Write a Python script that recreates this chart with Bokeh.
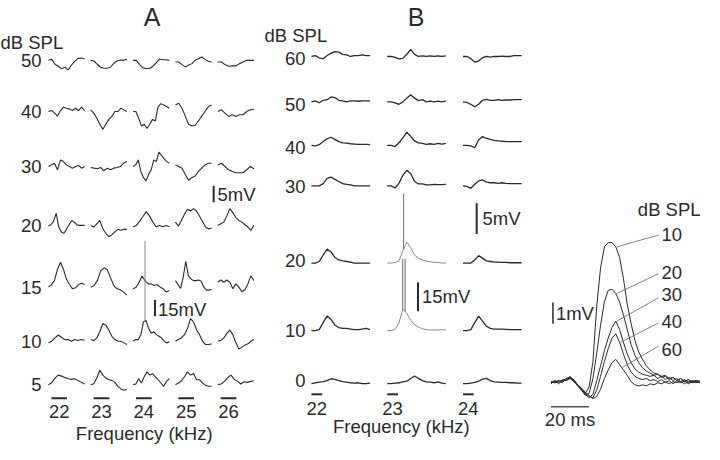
import numpy as np
from bokeh.plotting import figure
from bokeh.models import Range1d
from bokeh.core.properties import value
from bokeh.embed import file_html
from bokeh.resources import INLINE

FONT = "Liberation Sans"
INK = "#2a2a2a"
GREY = "#8a8a8a"

# ---------------- Panel A: membrane responses (mV), rows = dB SPL, cols = kHz
A_levels = ["50", "40", "30", "20", "15", "10", "5"]
A_freqs = ["22", "23", "24", "25", "26"]
A_50 = [
    [0, 0.3, -1.2, -1.8, -2.6, -2.1, -2.9, -1.5, -0.3, 0.6, 0.7, 0.5],
    [0, -0.2, -1.2, -2.1, -2.4, -2.4, -2.1, -0.9, -0.2, 0.1, 0.0, 0.3],
    [0, 0, -1.3, -2.3, -2.5, -2.5, -1.8, -0.8, 0.4, 0.2, 0.2, 0],
    [-0.5, -0.5, -1.3, -2.0, -1.5, -1.0, 0.0, 0.5, 1.0, 0.3, -0.3, -0.5],
    [-0.5, -0.5, -1.3, -1.8, -1.7, -1.7, -1.0, -0.5, 0.0, 0.0, 0.0],
]
A_40 = [
    [0, 0.3, -0.4, -1.4, 0.3, 1.3, 1.0, 0.8, 0.3, 1.0, 0.3, 1.3, 0.3],
    [0.5, -0.5, -2.0, -3.9, -5.4, -3.9, -2.4, -1.5, 0.0, 0.0, 1.0, 0.5, 0.0],
    [0, 0, -2.0, -4.4, -3.9, -5.2, -3.9, -2.4, -2.9, 1.5, 2.4, 2.0, 1.5, 1.0],
    [2.0, 2.5, 1.0, -1.4, -3.9, -4.4, -4.2, -2.9, -1.4, 0.0, 1.5, 2.0],
    [0, 0.5, -0.5, -1.5, -1.0, -1.5, -1.0, -1.0, 0, 0.5, 0.7],
]
A_30 = [
    [0, 0.5, 1.0, -1.0, 2.0, 1.5, 0.5, 0, -0.5, 0, 0.3, -0.5, 0],
    [-0.3, -0.5, -0.7, -0.3, -1.3, -0.5, -1.0, -0.5, -0.3, 0.0, 1.0, 1.5],
    [0, 0.5, 2.0, -1.5, -3.4, -4.4, -2.4, -1.0, 2.0, 1.5, 4.4, 3.4, 2.4, 1.5, 1.0],
    [0.5, 0, -0.5, -2.4, -4.2, -3.4, -2.9, -1.5, -0.5, 0.5, 1.0, 1.0],
    [0.5, 1.0, 0, -1.0, -1.5, -1.9, -1.9, -1.9, -1.0, 0, -0.7],
]
A_20 = [
    [-0.2, 0.2, 1.2, 3.7, -0.5, -2.0, -2.4, -1.2, 0.2, 1.5, 1.0, 0.2, 0, 0, 0],
    [0, -0.5, 0.5, 1.5, -1.0, -2.4, -3.4, -2.9, -2.0, -1.2, -1.5, -1.2, -1.2],
    [-0.4, 0, 1.3, 2.7, 4.2, 2.9, 1.0, -0.4, 0, -0.4, 0, -0.4],
    [1.0, -0.2, 1.5, 3.4, 4.9, 4.4, 5.1, 4.4, 2.8, 1.2, -0.5, -1.1, -0.8],
    [0, 0.5, 1.0, 2.9, 5.1, 3.9, 2.4, 1.5, 1.0, 0.2, -0.5, -1.5, 0],
]
A_15 = [
    [0, 0.8, 2.0, 5.4, 7.6, 5.4, 2.4, 0.8, -0.5, -0.2, 0.8, 1.2, 0.8],
    [0, 0.5, 2.0, 4.9, 5.9, 5.4, 2.9, 0.5, -0.5, -0.8, -1.5, -2.4],
    [-0.5, 0, 1.5, 3.4, 1.9, 1.0, 1.0, 0.5, 0.8, 0, -0.5, -1.5, -1.0],
    [2.0, 0.8, -0.4, 3.0, 7.9, 3.5, 2.5, 2.0, 2.0, 2.2, 1.8, 0.0, -0.9, -0.9, -0.7],
    [1.5, 2.2, 1.5, 2.2, 1.5, -0.5, 1.0, 0, -1.4, -0.8, 1.0, 3.5, 2.0],
]
A_10 = [
    [-0.5, 0.0, 1.0, 1.9, 1.2, 0.5, 0.5, 0.0, 0.5, 0.2, 0.5, 0.3],
    [0.5, 0.2, 1.0, 2.9, 5.4, 4.9, 3.4, 1.5, 0.5, 0, 0, -0.5, -1.0],
    [0, 0.5, 0.5, 2.0, 5.9, 6.4, 3.9, 2.4, 2.9, 2.0, 1.5, 1.0, 0, -0.5, -0.2],
    [0, 0.5, 1.0, 2.0, 3.9, 6.9, 5.9, 3.4, 2.0, 0, -1.0, -1.0, -0.8],
    [0, 0.2, 1.0, 2.4, 3.4, 2.0, -0.5, -2.4, -1.8, -1.2, -0.8, 0, 0.5],
]
A_5 = [
    [0, 0.6, 2.0, 2.9, 2.6, 2.2, 1.8, 1.6, 1.8, 1.3, 0.7, 0.2],
    [0, 0.3, 2.0, 4.4, 2.9, 2.0, 1.5, 1.3, 0.7, -0.5, -1.3, -1.7, -1.5],
    [0, 0.2, 1.8, 0.5, 2.4, 3.9, 2.9, 3.4, 2.4, 1.5, 0.5, -0.5, 1.0, 1.8],
    [0, 0.5, 1.2, 2.4, 3.9, 2.9, 3.4, 1.5, 1.5, 0.5, -0.2, -0.5, -0.5],
    [0, 0.2, 1.0, 2.1, 2.9, 1.7, 1.0, 0.2, 0.9, 0.7, 1.0, 1.2],
]
A_rows = [A_50, A_40, A_30, A_20, A_15, A_10, A_5]
# spike in the 24 kHz / 10 dB trace: (row, col, fraction of sweep, peak mV)
A_spikes = [(5, 2, 0.33, 30.6)]

# ---------------- Panel B
B_levels = ["60", "50", "40", "30", "20", "10", "0"]
B_freqs = ["22", "23", "24"]
B_60 = [
    [0, 0.15, -0.25, -0.35, 0.15, 0.5, 0.8, 0.7, 0.35, 0.25, 0, 0.15, 0.15, 0.25, 0.15, 0.15],
    [0, 0, -0.15, -0.4, -0.3, 0.35, 1.15, 0.35, 0, 0.1, 0, 0.1, 0, 0.1, 0, 0.1],
    [0, 0, -0.35, -0.9, -0.75, -0.2, 0, -0.1, 0, 0, 0.05, 0, 0, 0.15, 0.15, 0.15],
]
B_50 = [
    [0, 0.15, -0.15, 0.25, 0.35, 0.8, 0.7, 0.25, 0.15, 0, 0.15, 0.15, 0.1, 0.15, 0.15, 0.15],
    [0, 0, -0.15, -0.4, 0, 0.6, 1.15, 0.6, 0.2, 0.35, 0, 0.1, 0, 0.1, 0, 0.1],
    [0, -0.1, -0.4, -0.8, -0.4, 0.25, 0.4, 0.25, 0.25, 0.35, 0.25, 0.3, 0.3, 0.35, 0.35, 0.35],
]
B_40 = [
    [0, -0.1, 0.1, 0.6, 1.05, 1.3, 0.95, 0.6, 0.4, 0.35, 0.25, 0.2, 0.15, 0.15, 0.15, 0.1],
    [0, 0, -0.2, 0.4, 1.2, 2.1, 1.45, 0.7, 0.4, 0.3, 0.15, 0.25, 0.15, 0.3, 0.2, 0.3],
    [0, 0, -0.1, -0.4, 0.9, 1.4, 1.1, 0.95, 0.8, 0.7, 0.65, 0.6, 0.6, 0.6, 0.6, 0.6],
]
B_30 = [
    [0, 0, 0, 0.35, 1.2, 1.4, 1.05, 0.7, 0.35, 0.25, 0.15, 0, 0, 0, 0, 0],
    [0, 0, -0.35, 0.4, 1.7, 2.5, 2.0, 0.7, 0.3, 0.3, 0.15, 0.15, 0.25, 0.2, 0.2, 0.25],
    [0, -0.1, -0.4, 0.25, 0.8, 0.95, 0.6, 0.5, 0.5, 0.4, 0.5, 0.4, 0.35, 0.35, 0.35, 0.35],
]
B_20 = [
    [0, 0, 0.25, 1.3, 2.25, 1.8, 0.9, 0.5, 0.35, 0.25, 0.15, 0, 0, 0, 0, 0],
    [0, 0, 0.1, 0.3, 2.0, 3.4, 2.5, 1.3, 0.8, 0.5, 0.3, 0.2, 0.1, 0.1, 0, 0],
    [0, 0, 0, 0.5, 1.2, 0.8, 0.35, 0.25, 0.15, 0.15, 0.1, 0.1, 0.05, 0.05, 0.05, 0.05],
]
B_10 = [
    [0, 0, 0.15, 1.3, 2.35, 1.8, 0.9, 0.5, 0.35, 0.35, 0.25, 0.15, 0.15, 0.25, 0.35, 0.15],
    [0, 0, 0.15, 1.25, 3.45, 2.8, 1.7, 0.95, 0.6, 0.3, 0.15, 0.1, 0.1, 0.1, 0.15, 0.1],
    [0, 0, 0.15, 1.3, 2.35, 1.55, 0.7, 0.35, 0.25, 0.25, 0.25, 0.2, 0.15, 0.15, 0.15, 0.15],
]
B_0 = [
    [0, 0.15, 0.25, 0.35, 0.5, 0.8, 0.7, 0.5, 0.35, 0.25, 0.15, 0.1, 0.15, 0, 0, 0.1],
    [0, 0, 0.1, 0.15, 0.3, 0.4, 0.85, 1.25, 0.85, 0.5, 0.3, 0.25, 0.15, 0.3, 0.1, 0],
    [0, 0, 0.1, 0.2, 0.4, 0.75, 0.85, 0.5, 0.3, 0.25, 0.2, 0.2, 0.15, 0.15, 0.1, 0.1],
]
B_rows = [B_60, B_50, B_40, B_30, B_20, B_10, B_0]
B_grey = [(4, 1), (5, 1)]
B_spikes = [(4, 1, 0.28, 11.25), (5, 1, 0.265, 11.6), (5, 1, 0.305, 11.6)]

# ---------------- Panel C: averaged responses, t in ms (step 2 ms)
C_levels = ["10", "20", "30", "40", "60"]
C_10 = [0.0, 0.1, -0.05, 0.1, 0.15, 0.3, 0.1, -0.15, -0.35, -0.5, -0.2, 1.0, 3.6, 5.4, 6.4, 6.6, 6.6, 6.4, 5.9, 4.9,
        3.7, 2.8, 2.0, 1.45, 1.1, 0.8, 0.6, 0.45, 0.4, 0.3, 0.35, 0.2, 0.25, 0.1, 0.2, 0.05, 0.15, 0.0, 0.1, 0.05]
C_20 = [0.05, 0.0, 0.1, 0.05, 0.2, 0.25, 0.05, -0.1, -0.35, -0.6, -0.5, 0.2, 1.4, 2.7, 3.8, 4.35, 4.4, 4.2, 3.8, 3.2,
        2.5, 1.8, 1.3, 0.95, 0.7, 0.55, 0.45, 0.35, 0.4, 0.25, 0.3, 0.15, 0.25, 0.1, 0.2, 0.05, 0.15, 0.05, 0.1, 0.0]
C_30 = [-0.05, 0.1, 0.0, 0.15, 0.1, 0.25, 0.15, -0.1, -0.3, -0.55, -0.7, -0.55, 0.1, 0.8, 1.5, 2.1, 2.6, 2.9, 2.5, 1.9,
        1.35, 0.95, 0.65, 0.5, 0.4, 0.35, 0.3, 0.35, 0.2, 0.3, 0.15, 0.25, 0.1, 0.2, 0.05, 0.15, 0.0, 0.1, 0.05, 0.1]
C_40 = [0.0, 0.05, 0.1, 0.0, 0.2, 0.2, 0.1, -0.1, -0.3, -0.5, -0.65, -0.7, -0.35, 0.3, 1.0, 1.6, 2.1, 2.3, 1.9, 1.35,
        0.85, 0.5, 0.3, 0.2, 0.15, 0.2, 0.1, 0.15, 0.05, 0.15, 0.0, 0.1, -0.05, 0.1, 0.0, 0.1, -0.05, 0.05, 0.0, 0.05]
C_60 = [0.05, 0.0, 0.05, 0.1, 0.1, 0.2, 0.05, -0.1, -0.25, -0.45, -0.6, -0.75, -0.65, -0.3, 0.2, 0.6, 0.95, 1.1, 0.85, 0.6,
        0.35, 0.05, -0.1, -0.15, -0.1, -0.15, -0.05, -0.1, 0.0, -0.05, 0.05, -0.05, 0.05, 0.0, 0.05, -0.05, 0.05, 0.0, 0.05, 0.0]
C_traces = [C_10, C_20, C_30, C_40, C_60]
C_t = [2 * i for i in range(40)]
C_lead_t = [34, 34, 34, 36, 37]

# ---------------- layout (reference-pixel canvas)
W, H = 704, 444
p = figure(width=W, height=H, output_backend="svg", toolbar_location=None,
           x_range=Range1d(0, 720), y_range=Range1d(460, 0),
           x_axis_location=None, y_axis_location=None, min_border=0)
p.outline_line_color = None
p.grid.grid_line_color = None
p.background_fill_color = "white"
p.border_fill_color = "white"

FS = "18.5px"


def txt(xs, ys, texts, size=FS, align="left", color=INK):
    p.text(x=xs, y=ys, text=texts, text_font=value(FONT), text_font_size=value(size),
           text_align=value(align), text_baseline=value("middle"), text_color=color)


def trace_xy(vals, x0, w, base, scale):
    v = np.asarray(vals, dtype=float)
    xs = x0 + np.linspace(0.0, w, len(v))
    return xs, base - v * scale


# ---- Panel A
A_ROW_Y = [62, 115, 172, 233, 297, 353, 398]
A_X0, A_DX, A_W, A_SCALE = 49.0, 43.3, 37.0, 3.4
xs_l, ys_l = [], []
for r, row in enumerate(A_rows):
    for c, vals in enumerate(row):
        x, y = trace_xy(vals, A_X0 + c * A_DX, A_W, A_ROW_Y[r], A_SCALE)
        xs_l.append(x); ys_l.append(y)
p.multi_line(xs=xs_l, ys=ys_l, line_color=INK, line_width=1.1)
for r, c, frac, pk in A_spikes:
    x, y = trace_xy(A_rows[r][c], A_X0 + c * A_DX, A_W, A_ROW_Y[r], A_SCALE)
    sx = A_X0 + c * A_DX + frac * A_W
    p.segment(x0=[sx], y0=[float(np.interp(sx, x, y))], x1=[sx], y1=[A_ROW_Y[r] - pk * A_SCALE],
              line_color=GREY, line_width=1)
txt([42] * len(A_levels), A_ROW_Y, A_levels, align="right")
txt([0], [44], ["dB SPL"])
txt([155], [17], ["A"], size="25px", align="center")
bx = [A_X0 + 3 + c * A_DX for c in range(len(A_freqs))]
p.segment(x0=bx, y0=[412] * len(bx), x1=[b + 16 for b in bx], y1=[412] * len(bx), line_color=INK, line_width=2)
txt([b + 8 for b in bx], [426] * len(bx), A_freqs, align="center")
txt([147], [449], ["Frequency (kHz)"], align="center")
p.segment(x0=[218], y0=[209], x1=[218], y1=[209 - 5 * A_SCALE], line_color=INK, line_width=2)
txt([222], [201], ["5mV"])
p.segment(x0=[158], y0=[327], x1=[158], y1=[327 - 5 * A_SCALE], line_color=INK, line_width=2)
txt([161], [320], ["15mV"])

# ---- Panel B
B_ROW_Y = [58, 105, 150, 192, 272, 342, 397]
B_LAB_Y = [60, 108, 152, 193, 269, 342, 394]
B_X0, B_DX, B_W, B_SCALE = 318.0, 77.5, 60.0, 6.4
xs_d, ys_d, xs_g, ys_g = [], [], [], []
for r, row in enumerate(B_rows):
    for c, vals in enumerate(row):
        x, y = trace_xy(vals, B_X0 + c * B_DX, B_W, B_ROW_Y[r], B_SCALE)
        if (r, c) in B_grey:
            xs_g.append(x); ys_g.append(y)
        else:
            xs_d.append(x); ys_d.append(y)
p.multi_line(xs=xs_d, ys=ys_d, line_color=INK, line_width=1.3)
p.multi_line(xs=xs_g, ys=ys_g, line_color=GREY, line_width=1)
for r, c, frac, pk in B_spikes:
    x, y = trace_xy(B_rows[r][c], B_X0 + c * B_DX, B_W, B_ROW_Y[r], B_SCALE)
    sx = B_X0 + c * B_DX + frac * B_W
    p.segment(x0=[sx], y0=[float(np.interp(sx, x, y))], x1=[sx], y1=[B_ROW_Y[r] - pk * B_SCALE],
              line_color="#6a6a6a", line_width=1)
txt([312] * len(B_levels), B_LAB_Y, B_levels, align="right")
txt([270], [36], ["dB SPL"])
txt([425], [17], ["B"], size="25px", align="center")
bx = [B_X0 + c * B_DX for c in range(len(B_freqs))]
p.segment(x0=bx, y0=[408] * len(bx), x1=[b + 11 for b in bx], y1=[408] * len(bx), line_color=INK, line_width=2)
txt([b + 5.5 for b in bx], [423] * len(bx), B_freqs, align="center")
txt([410], [441], ["Frequency (kHz)"], align="center")
p.segment(x0=[487], y0=[242], x1=[487], y1=[242 - 5 * B_SCALE], line_color=INK, line_width=2)
txt([493], [226], ["5mV"])
p.segment(x0=[427], y0=[322], x1=[427], y1=[292], line_color=INK, line_width=2)
txt([431], [307], ["15mV"])

# ---- Panel C
C_X0, C_MS, C_BASE, C_SCALE = 563.0, 1.95, 396.0, 22.0
cx = [C_X0 + np.asarray(C_t, dtype=float) * C_MS for _ in C_traces]
cy = [C_BASE - np.asarray(v, dtype=float) * C_SCALE for v in C_traces]
p.multi_line(xs=cx, ys=cy, line_color=INK, line_width=1)
C_LAB_Y = [242, 282, 305, 333, 362]
C_LEAD_END = [243, 283, 308, 334, 358]
lx0 = [C_X0 + t * C_MS for t in C_lead_t]
ly0 = [float(np.interp(t, C_t, v)) for t, v in zip(C_lead_t, C_traces)]
ly0 = [C_BASE - v * C_SCALE for v in ly0]
p.segment(x0=[x + 1 for x in lx0], y0=ly0, x1=[673] * 5, y1=C_LEAD_END, line_color="#666666", line_width=0.8)
txt([676] * 5, C_LAB_Y, C_levels)
txt([716], [217], ["dB SPL"], align="right")
p.segment(x0=[565], y0=[335], x1=[565], y1=[335 - 1 * C_SCALE], line_color=INK, line_width=1.5)
txt([568], [324], ["1mV"])
p.segment(x0=[C_X0], y0=[421], x1=[C_X0 + 20 * C_MS], y1=[421], line_color="#555555", line_width=1.5)
txt([C_X0 + 10 * C_MS], [434], ["20 ms"], align="center")

open("out.html", "w").write(file_html(p, INLINE))
